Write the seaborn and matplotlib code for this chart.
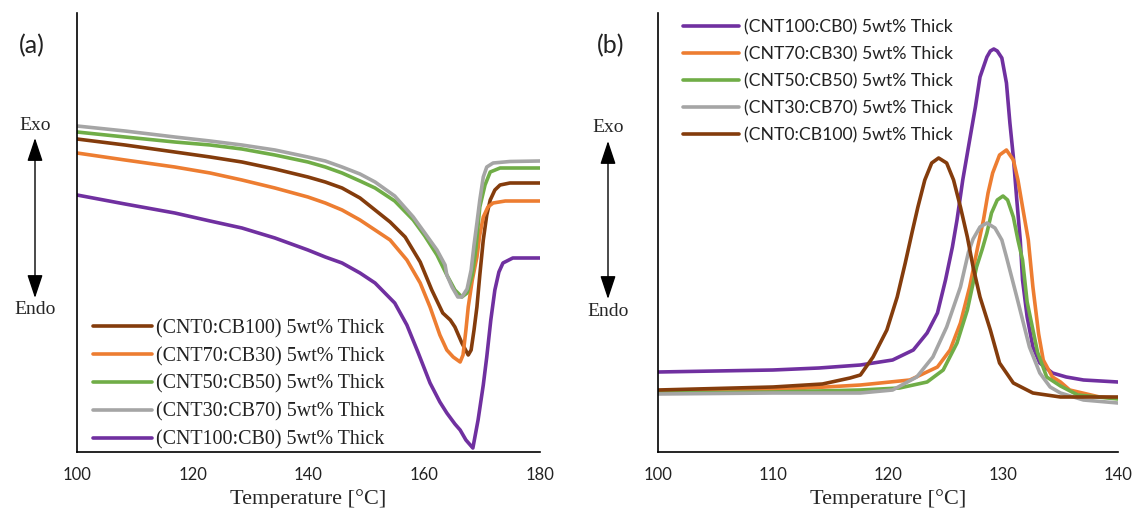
import numpy as np
import pandas as pd
import matplotlib
matplotlib.use("Agg")
import matplotlib.pyplot as plt
import seaborn as sns
from matplotlib.lines import Line2D
from matplotlib.transforms import IdentityTransform

# ---- (a) heating scans: temperature [°C] and heat flow [a.u.] ----
a_labels = ["(CNT0:CB100) 5wt% Thick", "(CNT70:CB30) 5wt% Thick",
            "(CNT50:CB50) 5wt% Thick", "(CNT30:CB70) 5wt% Thick",
            "(CNT100:CB0) 5wt% Thick"]

a_brown_T = [100, 108.3, 116.9, 123.0, 128.5, 134.2, 139.9, 142.9, 145.8, 148.9, 151.5, 154.1, 156.7,
             159.3, 161.3, 163.2, 164.5, 165.3, 166.5, 167.6, 168.1, 168.6, 169.1, 169.6, 170.2,
             170.8, 171.4, 172.2, 173.1, 174.8, 180]
a_brown_y = [313, 307, 300, 295, 290, 283, 275, 270, 264, 254, 242, 230, 215,
             190, 162, 139, 132, 125, 109, 97, 102, 122, 145, 177, 212,
             237, 252, 262, 267, 269, 269]

a_orange_T = [100, 108.3, 116.9, 123.0, 128.5, 134.2, 139.9, 142.9, 145.8, 148.9, 151.5, 154.1, 157.0,
              159.3, 161.0, 162.7, 163.9, 165.0, 166.2, 166.7, 167.2, 167.6, 168.3, 169.1, 169.6,
              170.2, 171.0, 171.9, 174.0, 180]
a_orange_y = [299, 292, 285, 279, 272, 264, 255, 249, 242, 232, 222, 212, 192,
              169, 145, 117, 102, 95, 90, 97, 122, 145, 172, 195, 217,
              235, 245, 249, 251, 251]

a_green_T = [100, 108.3, 116.9, 123.0, 128.5, 134.2, 139.9, 142.9, 145.8, 148.9, 151.5, 154.9, 158.1,
             160.1, 162.2, 163.9, 165.3, 166.5, 167.4, 168.3, 168.9, 169.6, 170.5, 171.4, 173.1, 180]
a_green_y = [320, 315, 310, 307, 303, 297, 290, 285, 279, 271, 264, 251, 232,
             216, 197, 177, 162, 155, 159, 177, 202, 245, 267, 280, 284, 284]

a_gray_T = [100, 108.3, 116.9, 123.0, 128.5, 134.2, 139.9, 142.9, 145.8, 148.9, 151.5, 154.9, 158.1,
            160.1, 162.2, 163.6, 163.9, 164.8, 165.8, 166.5, 167.4, 168.1, 168.6, 169.1, 169.6,
            170.2, 170.8, 171.9, 174.8, 180]
a_gray_y = [326, 321, 315, 311, 307, 302, 295, 291, 285, 278, 270, 256, 235,
            219, 202, 187, 177, 165, 155, 155, 163, 182, 207, 229, 252,
            275, 285, 289, 290.5, 291]

a_purple_T = [100, 108.3, 116.9, 123.0, 128.5, 134.2, 139.9, 142.9, 145.8, 148.9, 151.5, 154.9, 157.0,
              158.9, 161.0, 162.7, 163.9, 165.3, 166.2, 167.2, 168.4, 169.3, 170.2, 170.8, 171.5,
              172.2, 172.9, 173.6, 175.3, 180]
a_purple_y = [257, 248, 239, 231, 224, 214, 202, 195, 189, 179, 169, 149, 127,
              100, 69, 50, 39, 28, 22, 12, 4, 32, 67, 95, 132,
              162, 180, 189, 194, 194]

# ---- (b) cooling scans ----
b_labels = ["(CNT100:CB0) 5wt% Thick", "(CNT70:CB30) 5wt% Thick",
            "(CNT50:CB50) 5wt% Thick", "(CNT30:CB70) 5wt% Thick",
            "(CNT0:CB100) 5wt% Thick"]

b_purple_T = [100, 110, 114, 117.6, 120.4, 122.2, 123.4, 124.3, 125.0, 125.6, 126.0, 126.5, 127.1,
              127.6, 128.0, 128.6, 128.9, 129.2, 129.5, 129.9, 130.3, 130.6, 130.9, 131.2, 131.5,
              131.7, 132.1, 132.6, 133.2, 134.3, 135.5, 137, 140]
b_purple_y = [80, 82, 84, 87, 92, 102, 119, 139, 172, 205, 232, 272, 312,
              345, 375, 395, 401, 403, 401, 394, 369, 329, 295, 252, 212,
              172, 135, 105, 89, 79, 75, 72, 70]

b_orange_T = [100, 110, 117.6, 121.9, 124.3, 125.4, 126.3, 127.1, 127.8, 128.3, 128.7, 129.1, 129.7,
              130.3, 130.9, 131.3, 131.7, 132.2, 132.6, 133.1, 133.5, 134.3, 135.0, 135.8, 138.4, 140]
b_orange_y = [61, 62, 67, 72, 85, 102, 129, 165, 205, 232, 259, 279, 297,
              302, 292, 272, 245, 212, 165, 118, 92, 75, 70, 62, 55, 54]

b_green_T = [100, 110, 117.6, 121, 123.4, 124.8, 126.0, 126.9, 127.7, 128.2, 128.6, 129.0, 129.5,
             130.0, 130.4, 130.9, 131.3, 131.7, 132.1, 133.0, 133.8, 135.0, 136.5, 140]
b_green_y = [59, 60, 62, 64, 70, 82, 109, 142, 185, 203, 219, 239, 252,
             256, 252, 235, 212, 192, 150, 100, 75, 66, 57, 53]

b_gray_T = [100, 110, 117.6, 120.4, 122.5, 123.9, 125.1, 126.3, 127.0, 127.4, 128.0, 128.6, 129.3,
            129.9, 130.3, 131.2, 132.3, 133.2, 134.1, 135.0, 137, 140]
b_gray_y = [58, 59, 59, 62, 75, 95, 125, 165, 200, 213, 225, 229, 224,
            212, 195, 155, 105, 79, 65, 59, 52, 49]

b_brown_T = [100, 110, 114.3, 116.7, 117.6, 118.7, 119.9, 120.8, 121.5, 122.1, 122.6, 123.2, 123.8,
             124.4, 125.1, 125.7, 126.3, 126.9, 127.4, 128.0, 128.9, 129.7, 130.9, 132.6, 135.0, 140]
b_brown_y = [62, 65, 68, 74, 77, 95, 122, 155, 189, 220, 245, 272, 289,
             294, 289, 272, 245, 215, 185, 155, 122, 89, 69, 59, 55, 55]

C_BROWN, C_ORANGE, C_GREEN, C_GRAY, C_PURPLE = "#843C0C", "#ED7D31", "#70AD47", "#A5A5A5", "#7030A0"

a_series = [(a_brown_T, a_brown_y), (a_orange_T, a_orange_y), (a_green_T, a_green_y),
            (a_gray_T, a_gray_y), (a_purple_T, a_purple_y)]
a_colors = [C_BROWN, C_ORANGE, C_GREEN, C_GRAY, C_PURPLE]

b_series = [(b_purple_T, b_purple_y), (b_orange_T, b_orange_y), (b_green_T, b_green_y),
            (b_gray_T, b_gray_y), (b_brown_T, b_brown_y)]
b_colors = [C_PURPLE, C_ORANGE, C_GREEN, C_GRAY, C_BROWN]


def long_table(labels, series):
    frames = []
    for lab, (t, y) in zip(labels, series):
        frames.append(pd.DataFrame({"T": t, "y": y, "sample": lab}))
    return pd.concat(frames, ignore_index=True)


sns.set_style("white")
plt.rcParams["font.family"] = ["Liberation Serif", "DejaVu Serif"]

W, H = 1134, 508
fig = plt.figure(figsize=(W / 100, H / 100), dpi=100)


def px_rect(x0, x1, ytop, ybot):
    return [x0 / W, 1 - ybot / H, (x1 - x0) / W, (ybot - ytop) / H]


axA = fig.add_axes(px_rect(77, 540, 13, 452))
axB = fig.add_axes(px_rect(658, 1118, 13, 452))

LW = 2.6
for ax, labels, series, colors, xlim, xticks in [
        (axA, a_labels, a_series, a_colors, (100, 180), [100, 120, 140, 160, 180]),
        (axB, b_labels, b_series, b_colors, (100, 140), [100, 110, 120, 130, 140])]:
    df = long_table(labels, series)
    sns.lineplot(data=df, x="T", y="y", hue="sample", hue_order=labels,
                 palette=colors, estimator=None, sort=False, units="sample",
                 linewidth=LW, ax=ax, legend=False)
    for ln in ax.get_lines():
        ln.set_solid_joinstyle("round")
        ln.set_solid_capstyle("round")
    ax.set_xlim(*xlim)
    ax.set_ylim(0, 439)
    ax.set_xticks(xticks)
    ax.set_yticks([])
    ax.set_ylabel("")
    ax.set_xlabel("Temperature [°C]", fontsize=16, family=["Liberation Serif"], labelpad=4)
    for s in ["top", "right"]:
        ax.spines[s].set_visible(False)
    for s in ["left", "bottom"]:
        ax.spines[s].set_color("black")
        ax.spines[s].set_linewidth(1.2)
    ax.tick_params(axis="x", direction="out", length=5, width=1.2, color="black",
                   labelsize=12, pad=6)
    for lbl in ax.get_xticklabels():
        lbl.set_family(["Lato", "DejaVu Sans"])
        lbl.set_color("#222222")

hA = [Line2D([], [], color=c, lw=LW) for c in a_colors]
legA = axA.legend(hA, a_labels, loc="upper left", frameon=False, borderpad=0, borderaxespad=0,
                  handlelength=2.95, handletextpad=0.2, labelspacing=0.43,
                  prop={"family": "Liberation Serif", "size": 14.4})

hB = [Line2D([], [], color=c, lw=LW) for c in b_colors]
legB = axB.legend(hB, b_labels, loc="upper left", frameon=False, borderpad=0, borderaxespad=0,
                  handlelength=3.2, handletextpad=0.28, labelspacing=0.62,
                  prop={"family": "Lato", "size": 12.7})
for leg in (legA, legB):
    for t in leg.get_texts():
        t.set_color("#222222")

legA.set_bbox_to_anchor((93, H - 319), transform=IdentityTransform())
legB.set_bbox_to_anchor((683, H - 19), transform=IdentityTransform())

# panel letters
fig.text(32 / W, 1 - 46 / H, "(a)", fontsize=18, family=["Lato", "DejaVu Sans"],
         ha="center", va="center", color="#222222")
fig.text(611 / W, 1 - 46 / H, "(b)", fontsize=18, family=["Lato", "DejaVu Sans"],
         ha="center", va="center", color="#222222")

# Exo / Endo direction arrows
for xc, ytop, ybot, yexo, yendo in [(35, 138, 298, 125, 310), (608, 141, 299, 128, 312)]:
    fig.text(xc / W, 1 - yexo / H, "Exo", fontsize=14, ha="center", va="center")
    fig.text(xc / W, 1 - yendo / H, "Endo", fontsize=14, ha="center", va="center")
    axA.annotate("", xy=(xc, H - ytop), xytext=(xc, H - ybot), xycoords="figure pixels",
                 textcoords="figure pixels",
                 arrowprops=dict(arrowstyle="<|-|>,head_length=0.9,head_width=0.3",
                                 color="black", lw=1.0, shrinkA=0, shrinkB=0,
                                 mutation_scale=16))

fig.savefig("out.png", dpi=100)
